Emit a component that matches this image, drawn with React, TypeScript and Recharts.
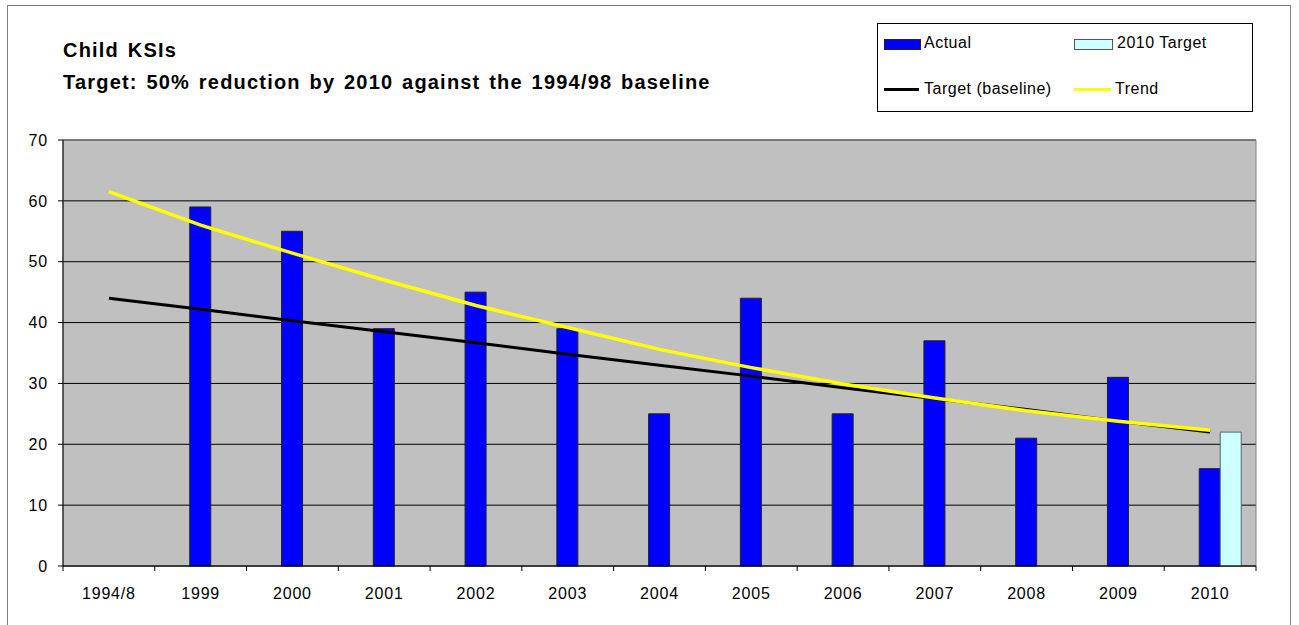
import React from "react";
import {
  ComposedChart, Bar, Line, XAxis, YAxis, CartesianGrid,
  ReferenceArea, Legend,
} from "recharts";

const categories = [
  "1994/8", "1999", "2000", "2001", "2002", "2003", "2004",
  "2005", "2006", "2007", "2008", "2009", "2010",
];
const actual = [null, 59, 55, 39, 45, 39, 25, 44, 25, 37, 21, 31, 16];
const target2010 = [null, null, null, null, null, null, null, null, null, null, null, null, 22];
const baseline = [44, 42.2, 40.3, 38.5, 36.7, 34.8, 33.0, 31.2, 29.3, 27.5, 25.7, 23.8, 22];
const trend = [61.5, 56.0, 51.4, 47.0, 42.8, 39.2, 35.6, 32.6, 29.9, 27.6, 25.5, 23.8, 22.3];
const yTicks = [0, 10, 20, 30, 40, 50, 60, 70];

const W = 1299;
const H = 625;
const PLOT_LEFT = 63;
const PLOT_RIGHT = 1256;
const PLOT_TOP = 140;
const PLOT_BOTTOM = 566;
const BAND = (PLOT_RIGHT - PLOT_LEFT) / categories.length;
const FONT = 'Arial, "Liberation Sans", sans-serif';

const data = categories.map((c, i) => ({
  cat: c,
  spacer: null,
  actual: actual[i],
  target2010: target2010[i],
  baseline: baseline[i],
  trend: trend[i],
}));

function XTick(props: any) {
  const { x, index, payload } = props;
  const left = x - BAND / 2;
  return (
    <g>
      <line x1={left} x2={left} y1={PLOT_BOTTOM} y2={PLOT_BOTTOM + 5} stroke="#000" />
      {index === categories.length - 1 && (
        <line x1={x + BAND / 2} x2={x + BAND / 2} y1={PLOT_BOTTOM} y2={PLOT_BOTTOM + 5} stroke="#000" />
      )}
      <text
        x={x}
        y={599}
        textAnchor="middle"
        fontSize={16}
        letterSpacing={0.8}
        fontFamily={FONT}
        fill="#000"
      >
        {payload.value}
      </text>
    </g>
  );
}

function LegendBox() {
  const txt: React.CSSProperties = {
    position: "absolute", fontSize: 16, letterSpacing: 0.5,
    fontFamily: FONT, color: "#000", whiteSpace: "nowrap", lineHeight: "18px",
  };
  return (
    <div style={{
      position: "relative", width: 376, height: 89,
      border: "1px solid #000", background: "#fff", boxSizing: "border-box",
    }}>
      <div style={{ position: "absolute", left: 6, top: 15, width: 35, height: 9, background: "#0000ff", border: "1px solid #222" }} />
      <div style={{ ...txt, left: 46, top: 10 }}>Actual</div>
      <div style={{ position: "absolute", left: 196, top: 15, width: 37, height: 9, background: "#ccffff", border: "1px solid #555" }} />
      <div style={{ ...txt, left: 239, top: 10 }}>2010 Target</div>
      <div style={{ position: "absolute", left: 6, top: 64, width: 35, height: 3, background: "#000" }} />
      <div style={{ ...txt, left: 46, top: 56 }}>Target (baseline)</div>
      <div style={{ position: "absolute", left: 196, top: 64, width: 37, height: 3, background: "#ffff00" }} />
      <div style={{ ...txt, left: 237, top: 56 }}>Trend</div>
    </div>
  );
}

export default function App() {
  return (
    <div style={{ position: "absolute", left: 0, top: 0, width: W, height: H, background: "#fff", overflow: "hidden" }}>
      <div style={{
        position: "absolute", left: 7, top: 5, width: 1284, height: 630,
        border: "1px solid #808080", boxSizing: "border-box",
      }} />
      <div style={{
        position: "absolute", left: 63, top: 34, fontFamily: FONT, fontWeight: "bold",
        fontSize: 20, letterSpacing: 1.2, wordSpacing: 2, lineHeight: "32px", color: "#000",
      }}>
        <div>Child KSIs</div>
        <div>Target: 50% reduction by 2010 against the 1994/98 baseline</div>
      </div>
      <div style={{ position: "absolute", left: 0, top: 0 }}>
        <ComposedChart
          width={W}
          height={H}
          data={data}
          margin={{ top: PLOT_TOP, right: W - PLOT_RIGHT, bottom: 29, left: 13 }}
          barSize={21}
          barGap={0}
        >
          <CartesianGrid vertical={false} fill="#c0c0c0" stroke="#000" fillOpacity={1} />
          <ReferenceArea y1={0} y2={70} fill="none" stroke="#808080" ifOverflow="visible" />
          <XAxis
            dataKey="cat"
            height={30}
            axisLine={{ stroke: "#000" }}
            tickLine={false}
            tick={<XTick />}
            interval={0}
          />
          <YAxis
            width={50}
            domain={[0, 70]}
            ticks={yTicks}
            interval={0}
            tickSize={5}
            tickMargin={10}
            axisLine={{ stroke: "#000" }}
            tickLine={{ stroke: "#000" }}
            tick={{ fontSize: 16, fill: "#000", fontFamily: FONT, letterSpacing: 0.8 }}
          />
          <Legend
            layout="vertical"
            align="center"
            verticalAlign="middle"
            wrapperStyle={{ position: "absolute", left: 877, top: 23, width: 376, height: 89 }}
            content={() => <LegendBox />}
          />
          <Bar dataKey="spacer" legendType="none" isAnimationActive={false} />
          <Bar dataKey="actual" name="Actual" fill="#0000ff" stroke="#222" strokeWidth={1} isAnimationActive={false} />
          <Bar dataKey="target2010" name="2010 Target" fill="#ccffff" stroke="#556666" strokeWidth={1} isAnimationActive={false} />
          <Line dataKey="baseline" name="Target (baseline)" stroke="#000" strokeWidth={3} dot={false} activeDot={false} isAnimationActive={false} />
          <Line dataKey="trend" name="Trend" stroke="#ffff00" strokeWidth={3.5} dot={false} activeDot={false} isAnimationActive={false} />
        </ComposedChart>
      </div>
    </div>
  );
}
